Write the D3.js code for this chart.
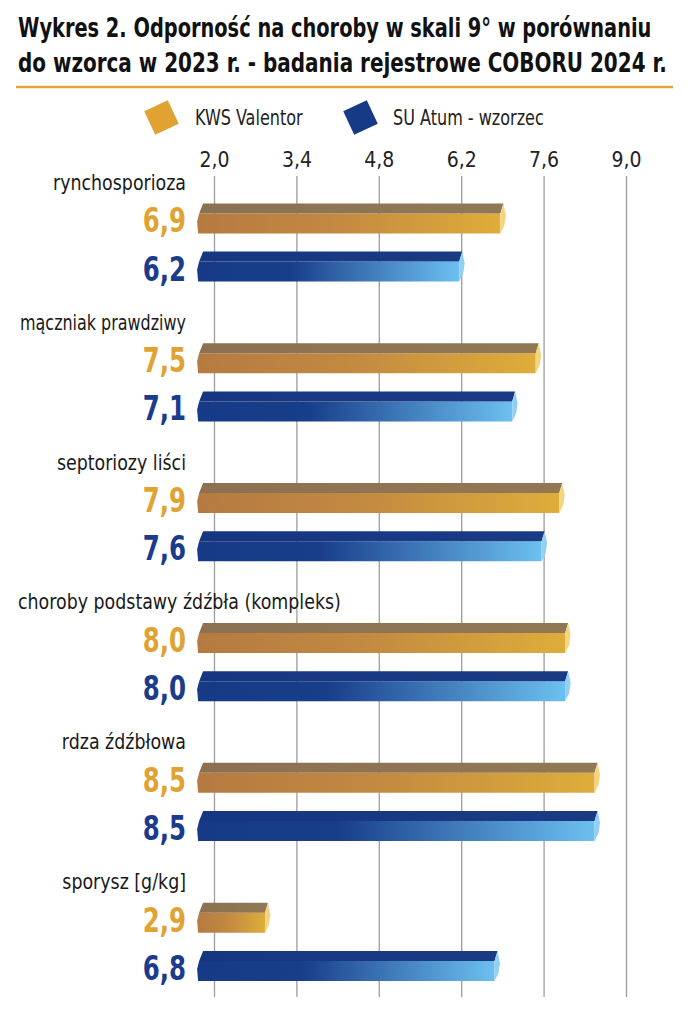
<!DOCTYPE html>
<html>
<head>
<meta charset="utf-8">
<script src="https://cdn.jsdelivr.net/npm/d3@7"></script>
<style>
  html, body { margin: 0; padding: 0; background: #fff; }
  svg { display: block; }
  text { font-family: "Liberation Sans Narrow", "DejaVu Sans Condensed", "Roboto Condensed", sans-serif; }
</style>
</head>
<body>
<svg id="chart" width="688" height="1024"></svg>
<script>
// ---- data ----
const titleLines = [
  "Wykres 2. Odporność na choroby w skali 9° w porównaniu",
  "do wzorca w 2023 r. - badania rejestrowe COBORU 2024 r."
];
const seriesNames = ["KWS Valentor", "SU Atum - wzorzec"];
const categories = [
  "rynchosporioza",
  "mączniak prawdziwy",
  "septoriozy liści",
  "choroby podstawy źdźbła (kompleks)",
  "rdza źdźbłowa",
  "sporysz [g/kg]"
];
const valentor = [6.9, 7.5, 7.9, 8.0, 8.5, 2.9];
const atum     = [6.2, 7.1, 7.6, 8.0, 8.5, 6.8];
const tickValues = [2.0, 3.4, 4.8, 6.2, 7.6, 9.0];
const barBase = 1.73;

// ---- setup ----
const svg = d3.select("#chart");
const locale = d3.formatLocale({decimal: ",", thousands: " ", grouping: [3], currency: ["", " zł"]});
const fmt = locale.format(".1f");

const x = d3.scaleLinear().domain([2, 9]).range([214, 626]);
const gridTop = 176, gridBottom = 997;

const groupY = d3.scaleLinear().domain([0, 5]).range([203.4, 902.7]);
const seriesOffset = 48.2;

const ORANGE_TEXT = "#e0a333";
const BLUE_TEXT = "#1b3b8b";

// condensed text helper: horizontal squeeze keeps the tall look of the original face
function ctext(parent, tx, ty, str, o) {
  const t = parent.append("text")
    .attr("x", 0).attr("y", 0)
    .attr("font-size", o.size)
    .attr("font-weight", o.weight || "normal")
    .attr("fill", o.fill || "#1a1a1a")
    .attr("text-anchor", o.anchor || "start")
    .text(str);
  let sx = o.sx || 1;
  if (o.fitWidth) sx = o.fitWidth / t.node().getComputedTextLength();
  t.attr("transform", `translate(${tx},${ty}) scale(${sx},1)`);
  return {node: t, sx: sx, raw: t.node().getComputedTextLength(), w: t.node().getComputedTextLength() * sx};
}

// ---- defs ----
const defs = svg.append("defs");
function lin(id, stops) {
  const g = defs.append("linearGradient").attr("id", id)
    .attr("x1", 0).attr("y1", 0).attr("x2", 1).attr("y2", 0);
  stops.forEach(s => g.append("stop").attr("offset", s[0]).attr("stop-color", s[1]));
}
lin("oFront", [[0, "#b57a41"], [0.45, "#c28941"], [1, "#dead3a"]]);
lin("oTop",   [[0, "#8b7151"], [1, "#917855"]]);
lin("bFront", [[0, "#163a86"], [0.35, "#183d89"], [1, "#6cc0f0"]]);
lin("bTop",   [[0, "#163681"], [1, "#1a3b84"]]);

const styles = [
  {front: "url(#oFront)", top: "url(#oTop)", cap: "#f3d47f", text: ORANGE_TEXT, values: valentor, legend: "#e0a333"},
  {front: "url(#bFront)", top: "url(#bTop)", cap: "#92d0f3", text: BLUE_TEXT, values: atum, legend: "#163a86"}
];

// ---- title ----
const titleG = svg.append("g");
ctext(titleG, 18, 37, titleLines[0], {size: 27, weight: "bold", fill: "#111", fitWidth: 634});
ctext(titleG, 18, 72, titleLines[1], {size: 27, weight: "bold", fill: "#111", fitWidth: 649});
svg.append("line").attr("x1", 16).attr("x2", 673).attr("y1", 87).attr("y2", 87)
  .attr("stroke", "#e3a438").attr("stroke-width", 2.6);

// ---- legend ----
const legendPos = [{cx: 161.5, tx: 195}, {cx: 360.5, tx: 393}];
seriesNames.forEach((name, i) => {
  const g = svg.append("g");
  g.append("rect").attr("x", -13).attr("y", -13).attr("width", 26).attr("height", 26)
    .attr("fill", styles[i].legend)
    .attr("transform", `translate(${legendPos[i].cx},117.5) rotate(-25)`);
  ctext(g, legendPos[i].tx, 125, name, {size: 21, fill: "#222", sx: 0.85});
});

// ---- axis / grid ----
const axis = d3.axisTop(x).tickValues(tickValues).tickFormat(fmt)
  .tickSize(-(gridBottom - gridTop)).tickPadding(9);
const ax = svg.append("g").attr("transform", `translate(0,${gridTop})`).call(axis);
ax.select(".domain").remove();
ax.selectAll(".tick line").attr("stroke", "#9c9c9c").attr("stroke-width", 1.3);
ax.selectAll(".tick text").attr("font-size", 21).attr("fill", "#222")
  .attr("font-family", "'Liberation Sans Narrow', 'DejaVu Sans Condensed', sans-serif");

// ---- bars ----
const x0 = x(barBase);
const TOP = 10, FRONT = 20;

function barPaths(g, v, t, st) {
  const xf = x(v) - 2;
  g.append("path")
    .attr("d", `M${x0 + 1},${t + TOP} L${xf},${t + TOP} L${xf},${t + TOP + FRONT} L${x0},${t + TOP + FRONT} L${x0 - 1},${t + TOP + 8} Z`)
    .attr("fill", st.front);
  g.append("path")
    .attr("d", `M${x0 + 5},${t} L${xf + 3},${t} L${xf},${t + TOP} L${x0 + 1},${t + TOP} Z`)
    .attr("fill", st.top);
  g.append("path")
    .attr("d", `M${xf},${t + TOP} L${xf + 3},${t} L${xf + 5.5},${t + 12} L${xf + 4},${t + 22} L${xf},${t + TOP + FRONT} Z`)
    .attr("fill", st.cap);
}

categories.forEach((cat, i) => {
  const gy = groupY(i);
  const lg = svg.append("g");
  const sxl = 0.88;
  const probe = ctext(lg, 186, gy - 13.5, cat, {size: 22, fill: "#1a1a1a", sx: sxl, anchor: "end"});
  if (probe.w > 200) {
    probe.node.attr("text-anchor", "start")
      .attr("transform", `translate(18,${gy - 13.5}) scale(${sxl},1)`);
  } else if (probe.w > 166) {
    probe.node.attr("transform", `translate(186,${gy - 13.5}) scale(${166 / probe.raw},1)`);
  }

  styles.forEach((st, s) => {
    const t = gy + s * seriesOffset;
    const g = svg.append("g");
    barPaths(g, st.values[i], t, st);
    ctext(svg, 186, t + 29, fmt(st.values[i]),
      {size: 34, weight: "bold", fill: st.text, anchor: "end", sx: 0.8});
  });
});
</script>
</body>
</html>
